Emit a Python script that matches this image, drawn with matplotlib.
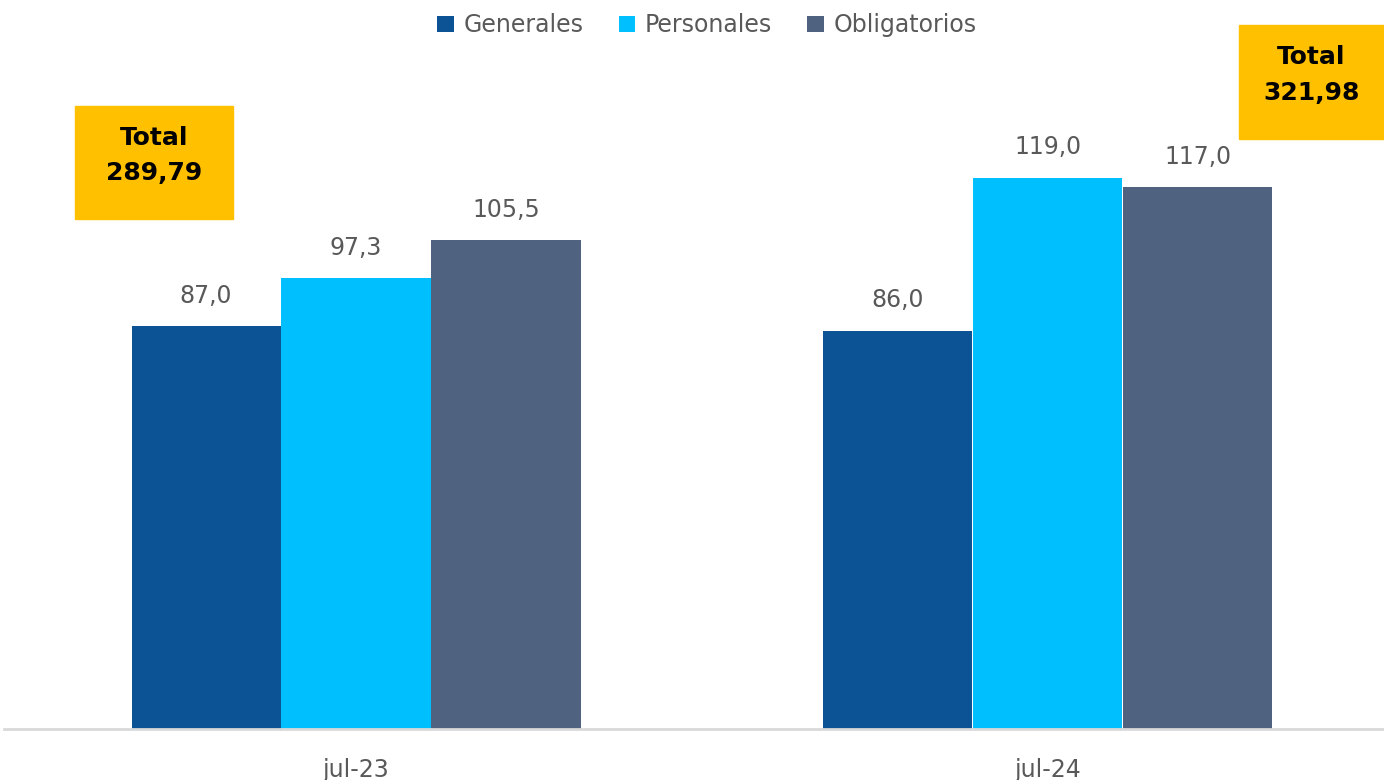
import numpy as np
import matplotlib.pyplot as plt
from matplotlib.patches import Rectangle

periods = ['jul-23', 'jul-24']
series = ['Generales', 'Personales', 'Obligatorios']
generales = [87.0, 86.0]
personales = [97.3, 119.0]
obligatorios = [105.5, 117.0]
totals = ['289,79', '321,98']

colors = ['#0B5394', '#00BFFF', '#4F6280']
gray = '#595959'

W, H = 1384, 780
fig = plt.figure(figsize=(W / 100, H / 100), dpi=100)
ax = fig.add_axes([4 / W, 1 - 729 / H, 1 - 4 / W, 729 / H - 32 / H])

x = np.arange(len(periods))
bw = 0.2168
for i, (name, vals) in enumerate(zip(series, [generales, personales, obligatorios])):
    pos = x + (i - 1) * bw
    bars = ax.bar(pos, vals, width=bw * 0.995, color=colors[i], label=name)
    for b, v in zip(bars, vals):
        ax.text(b.get_x() + b.get_width() / 2, v + 4, f'{v:.1f}'.replace('.', ','),
                ha='center', va='bottom', fontsize=17, color=gray)

ax.set_xlim(-0.509, 1.486)
ax.set_ylim(0, 150.5)
ax.set_xticks(x)
ax.set_xticklabels(periods, fontsize=17, color=gray)
ax.tick_params(axis='x', length=0, pad=21)
ax.set_yticks([])
for s in ['top', 'right', 'left']:
    ax.spines[s].set_visible(False)
ax.spines['bottom'].set_color('#D9D9D9')
ax.spines['bottom'].set_linewidth(2)

leg = fig.legend(loc='upper center', bbox_to_anchor=(707 / W, 1.01), ncol=3, frameon=False,
                 fontsize=17, handlelength=0.7, handleheight=0.7, handletextpad=0.4,
                 columnspacing=1.5)
for t in leg.get_texts():
    t.set_color(gray)

# total boxes (pixel positions from the reference)
boxes = [(75, 106, 233, 219), (1239, 25, 1384, 139)]
for (x0, y0, x1, y1), tot in zip(boxes, totals):
    fig.patches.append(Rectangle((x0 / W, 1 - y1 / H), (x1 - x0) / W, (y1 - y0) / H,
                                 transform=fig.transFigure, color='#FFC000', zorder=3))
    fig.text((x0 + x1) / 2 / W, 1 - ((y0 + y1) / 2 - 7) / H, 'Total\n' + tot, ha='center', va='center',
             fontsize=18, fontweight='bold', color='black', linespacing=1.6, zorder=4)

fig.savefig('out.png', dpi=100)
